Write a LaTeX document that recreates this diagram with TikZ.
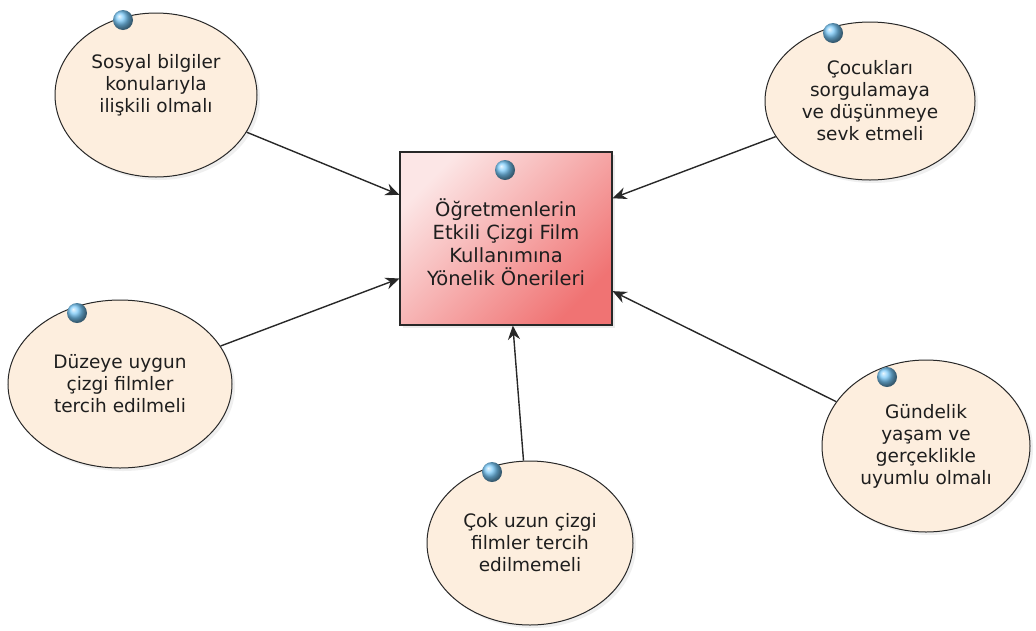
\documentclass[tikz,border=0pt]{standalone}
\usepackage{fontspec}
\setmainfont{DejaVu Sans}
\usetikzlibrary{shapes.geometric,arrows.meta,shadows}
\definecolor{peach}{RGB}{253,238,222}
\definecolor{pinkA}{RGB}{252,230,230}
\definecolor{pinkB}{RGB}{240,115,115}
\definecolor{edgecol}{RGB}{40,40,40}
\definecolor{txtcol}{RGB}{30,30,30}
\definecolor{ballblue}{RGB}{120,200,248}
\begin{document}
\begin{tikzpicture}[x=1pt,y=-1pt,
  idea/.style={ellipse, draw=edgecol, line width=1pt, fill=peach,
    inner sep=0pt, align=center, text=txtcol,
    font=\fontsize{18.5}{22}\selectfont,
    drop shadow={opacity=0.12, shadow xshift=3pt, shadow yshift=-3pt}},
  goalbox/.style={rectangle, draw=edgecol, line width=1.1pt,
    shading=axis, top color=pinkA, bottom color=pinkB, shading angle=45,
    inner sep=0pt, align=center, text=txtcol,
    minimum width=212pt, minimum height=173pt,
    font=\fontsize{19.5}{23}\selectfont,
    drop shadow={opacity=0.15, shadow xshift=3pt, shadow yshift=-3pt}},
  bluedot/.style={circle, minimum size=20pt, inner sep=0pt, shading=ball, ball color=ballblue},
  conn/.style={draw=edgecol, line width=1.4pt, -{Stealth[length=14pt,width=12pt]}}
]
\useasboundingbox (0,0) rectangle (1036,630);
\fill[white] (0,0) rectangle (1036,630);

\node[goalbox] (goal) at (506,238.5) {\\[2pt]Öğretmenlerin\\Etkili Çizgi Film\\Kullanımına\\Yönelik Önerileri};

\node[idea, minimum width=202pt, minimum height=164pt] (e1) at (156,95) {Sosyal bilgiler\\konularıyla\\ilişkili olmalı\\[2pt]};
\node[idea, minimum width=210pt, minimum height=158pt] (e2) at (870,101) {Çocukları\\sorgulamaya\\ve düşünmeye\\sevk etmeli};
\node[idea, minimum width=224pt, minimum height=168pt] (e3) at (120,384) {Düzeye uygun\\çizgi filmler\\tercih edilmeli};
\node[idea, minimum width=208pt, minimum height=172pt] (e4) at (926,446) {Gündelik\\yaşam ve\\gerçeklikle\\uyumlu olmalı};
\node[idea, minimum width=206pt, minimum height=164pt] (e5) at (530,543) {Çok uzun çizgi\\filmler tercih\\edilmemeli};

\node[bluedot] (b0) at (505,170) {};
\node[bluedot] (b1) at (123,20) {};
\node[bluedot] (b2) at (833,33) {};
\node[bluedot] (b3) at (77,313) {};
\node[bluedot] (b4) at (887,377) {};
\node[bluedot] (b5) at (492,472) {};

\draw[conn] (e1) -- (goal);
\draw[conn] (e2) -- (goal);
\draw[conn] (e3) -- (goal);
\draw[conn] (e4) -- (goal);
\draw[conn] (e5) -- (goal);
\end{tikzpicture}
\end{document}
